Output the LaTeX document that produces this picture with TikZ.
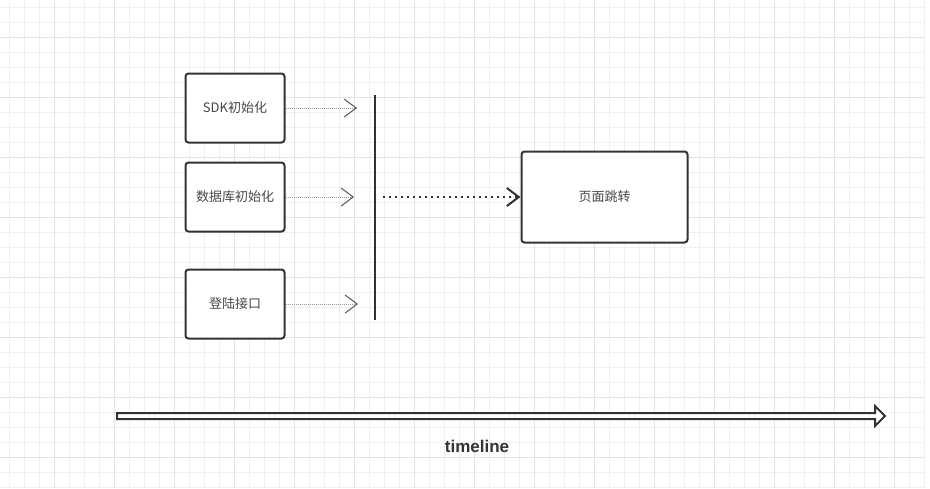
\documentclass[tikz,border=0pt]{standalone}
\usepackage{fontspec}
\setmainfont{Noto Sans CJK SC}
\newfontfamily\latinfont{Liberation Sans}
\usetikzlibrary{arrows.meta}
\definecolor{gridminor}{HTML}{F0F0F0}
\definecolor{gridmajor}{HTML}{E3E3E3}
\definecolor{ink}{HTML}{333333}
\definecolor{txt}{HTML}{474747}
\definecolor{dotgray}{HTML}{9A9A9A}
\definecolor{barbgray}{HTML}{555555}
\begin{document}
\begin{tikzpicture}[x=1pt,y=-1pt,
  box/.style={draw=ink, line width=2pt, rounded corners=3pt, fill=white, inner sep=0pt,
    font=\fontsize{13}{15}\selectfont, text=txt},
  smallbox/.style={box, minimum width=99pt, minimum height=69pt},
  thinarrow/.style={draw=dotgray, line width=1pt, dash pattern=on 1pt off 1pt,
    -{Straight Barb[length=12pt,width=18pt,line width=1pt,color=barbgray]}},
  thickarrow/.style={draw=ink, line width=2pt, dash pattern=on 2pt off 4pt,
    -{Straight Barb[length=12pt,width=18pt,line width=2pt,color=ink]}},
  bar/.style={draw=ink, line width=2pt},
  hollowarrow/.style={draw=ink, line width=2pt, fill=white, line join=miter},
  label/.style={font=\latinfont\bfseries\fontsize{17}{20}\selectfont, text=ink}
]
\useasboundingbox (0,0) rectangle (930,488);
\fill[white] (0,0) rectangle (930,488);
% grid
\foreach \x in {9,24,...,924} \draw[gridminor, line width=1pt] (\x,0) -- (\x,488);
\foreach \y in {7,22,...,487} \draw[gridminor, line width=1pt] (0,\y) -- (925,\y);
\foreach \x in {54,114,...,924} \draw[gridmajor, line width=1pt] (\x,0) -- (\x,488);
\foreach \y in {37,97,...,487} \draw[gridmajor, line width=1pt] (0,\y) -- (925,\y);

% boxes
\node[smallbox] (sdk) at (235,108) {SDK初始化};
\node[smallbox] (db) at (235,197) {数据库初始化};
\node[smallbox] (login) at (235,304) {登陆接口};
\node[box, minimum width=166pt, minimum height=91pt] (page) at (604.5,197) {页面跳转};

% vertical bar
\coordinate (bt) at (375,95);
\coordinate (bb) at (375,320);
\draw[bar] (bt) -- (bb);

% thin arrows
\coordinate (e1) at (357,108);
\coordinate (e2) at (354,197);
\coordinate (e3) at (358,304);
\draw[thinarrow] (sdk.east) -- (e1);
\draw[thinarrow] (db.east) -- (e2);
\draw[thinarrow] (login.east) -- (e3);

% thick arrow
\coordinate (s4) at (383,197);
\draw[thickarrow] (s4) -- (page.west);

% timeline arrow
\coordinate (ts) at (117,416);
\coordinate (te) at (885,416);
\draw[hollowarrow] (117,413) -- (875,413) -- (875,406) -- (te) -- (875,426) -- (875,419) -- (117,419) -- cycle;
\node[label] (tl) at (477,446) {timeline};
\end{tikzpicture}
\end{document}
